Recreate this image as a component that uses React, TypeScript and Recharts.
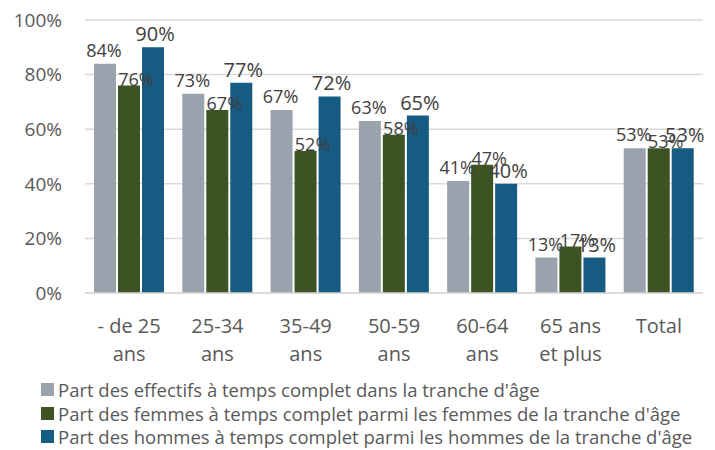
import React from 'react'
import { BarChart, Bar, XAxis, YAxis, CartesianGrid, LabelList } from 'recharts'

const categories = ['- de 25\nans', '25-34\nans', '35-49\nans', '50-59\nans', '60-64\nans', '65 ans\net plus', 'Total']
const effectifs = [84, 73, 67, 63, 41, 13, 53]
const femmes = [76, 67, 52, 58, 47, 17, 53]
const hommes = [90, 77, 72, 65, 40, 13, 53]
const yTicks = [0, 20, 40, 60, 80, 100]

const seriesNames = [
  "Part des effectifs à temps complet dans la tranche d'âge",
  "Part des femmes à temps complet parmi les femmes de la tranche d'âge",
  "Part des hommes à temps complet parmi les hommes de la tranche d'âge",
]
const colors = ['#9AA3AD', '#3D5323', '#155B82']

const FONT = '"Open Sans", "Noto Sans", sans-serif'

const chartData = categories.map((name, i) => ({
  name,
  effectifs: effectifs[i],
  femmes: femmes[i],
  hommes: hommes[i],
}))

// label drawn with its baseline a few px above the bar top
const makeLabel = (fontSize: number, dx: number, dy: number) => (props: any) => {
  const { x, y, width, value } = props
  return (
    <text
      x={Number(x) + Number(width) / 2 + dx}
      y={Number(y) + dy}
      textAnchor="middle"
      fontSize={fontSize}
      fontFamily={FONT}
      fill="#404040"
    >
      {value}%
    </text>
  )
}

const CategoryTick = ({ x, y, payload }: any) => {
  const lines = String(payload.value).split('\n')
  return (
    <text x={x} y={y} textAnchor="middle" fontSize={20} fontFamily={FONT} fill="#595959">
      {lines.map((l, i) => (
        <tspan key={i} x={x} dy={i === 0 ? 32 : 28}>
          {l}
        </tspan>
      ))}
    </text>
  )
}

export default function App() {
  return (
    <div style={{ position: 'relative', top: -8, left: -8, width: 715, height: 450, background: '#fff', fontFamily: FONT }}>
      <BarChart
        width={715}
        height={450}
        data={chartData}
        margin={{ top: 20, right: 12, left: 0, bottom: 0 }}
        barSize={22}
        barGap={2}
      >
        <CartesianGrid vertical={false} stroke="#D9D9D9" strokeWidth={1.5} />
        <XAxis
          dataKey="name"
          height={157}
          tickLine={false}
          axisLine={{ stroke: '#D9D9D9', strokeWidth: 1.5 }}
          tick={<CategoryTick />}
          interval={0}
        />
        <YAxis
          width={85}
          domain={[0, 100]}
          ticks={yTicks}
          tickFormatter={(v) => `${v}%`}
          axisLine={false}
          tickLine={false}
          tickSize={0}
          tickMargin={23}
          tick={{ fontSize: 19, fill: '#595959', fontFamily: FONT }}
        />
        <Bar dataKey="effectifs" fill={colors[0]} isAnimationActive={false}>
          <LabelList dataKey="effectifs" content={makeLabel(18, -1, -7)} />
        </Bar>
        <Bar dataKey="femmes" fill={colors[1]} isAnimationActive={false}>
          <LabelList dataKey="femmes" content={makeLabel(18, 7, 0)} />
        </Bar>
        <Bar dataKey="hommes" fill={colors[2]} isAnimationActive={false}>
          <LabelList dataKey="hommes" content={makeLabel(20, 2, -6)} />
        </Bar>
      </BarChart>
      <div style={{ position: 'absolute', left: 41, top: 378, fontSize: 18.5, color: '#595959', lineHeight: '23.5px' }}>
        {seriesNames.map((n, i) => (
          <div key={n} style={{ display: 'flex', alignItems: 'center', whiteSpace: 'nowrap' }}>
            <span style={{ display: 'inline-block', width: 13, height: 13, background: colors[i], marginRight: 4 }} />
            {n}
          </div>
        ))}
      </div>
    </div>
  )
}
